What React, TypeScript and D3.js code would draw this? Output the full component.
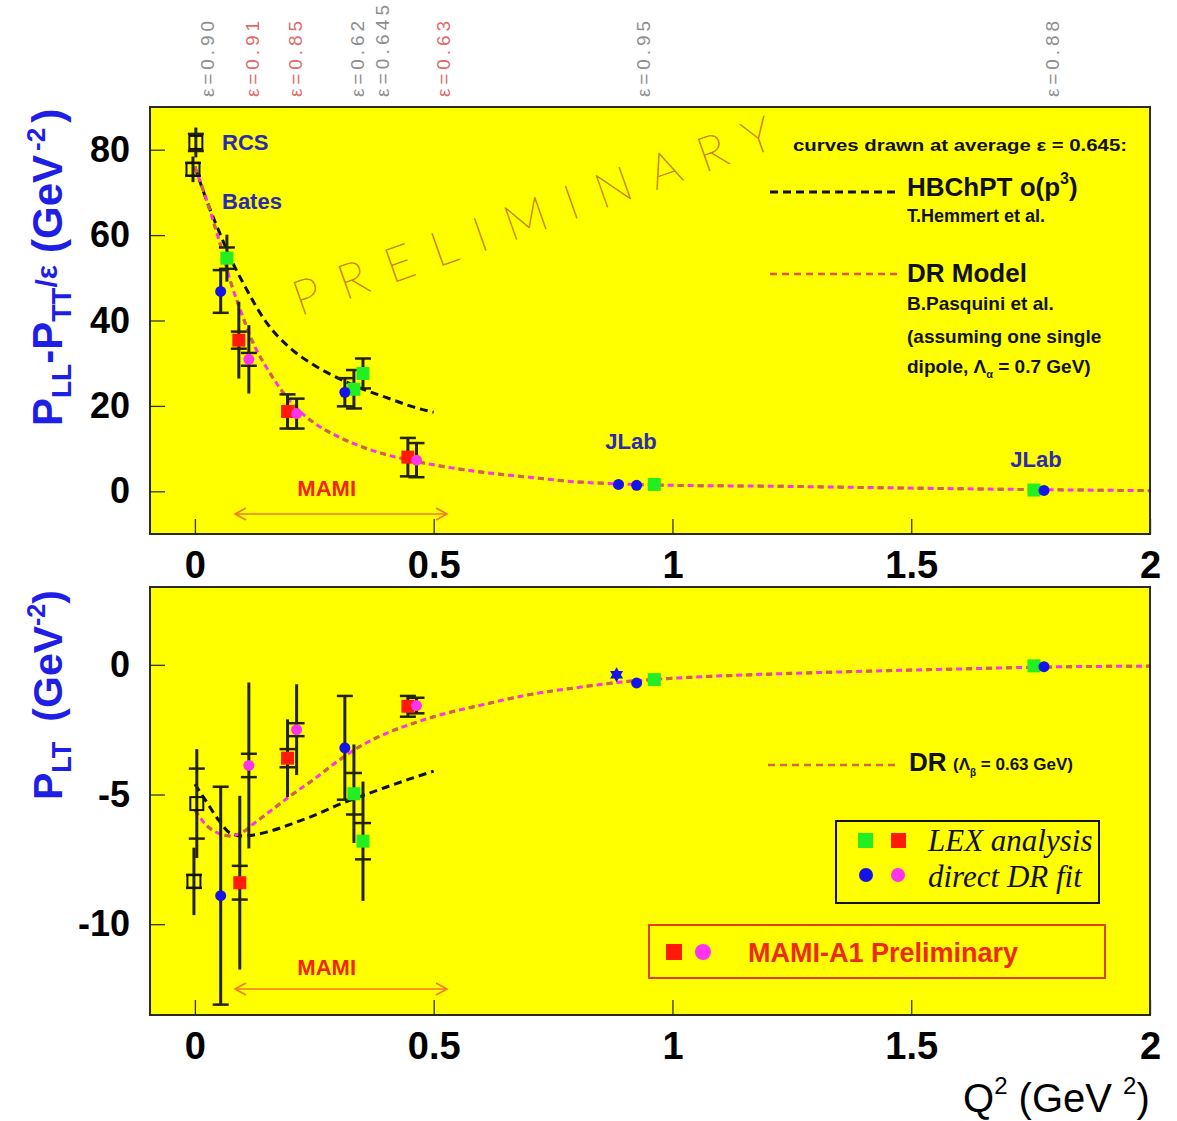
import React, { useEffect, useRef } from 'react';
import * as d3 from 'd3';

// x axis
const q2Ticks = [0, 0.5, 1, 1.5, 2];
const topTicks = [0, 20, 40, 60, 80];
const botTicks = [0, -5, -10];

// points: [Q2, value, stat error, total error]
const topOpen = [[0.002, 81.7, 2, 3.5], [-0.004, 75.4, 1.5, 3]];
const topGreen = [[0.067, 54.6, 2.5, 5.5], [0.333, 23.9, 4.5, 4.5], [0.352, 27.6, 3.5, 3.5], [0.962, 1.6, 0, 0], [1.757, 0.3, 0, 0]];
const topBlue = [[0.054, 46.8, 5, 5], [0.314, 23.2, 3.3, 3.3], [0.887, 1.6, 0, 0], [0.925, 1.4, 0, 0], [1.778, 0.2, 0, 0]];
const topRed = [[0.092, 35.4, 2, 9], [0.194, 18.7, 4, 4], [0.446, 8.0, 4.5, 4.5]];
const topMagenta = [[0.113, 30.9, 1.5, 8], [0.213, 18.2, 3.5, 3.5], [0.464, 7.3, 4, 4]];

const botOpen = [[0.004, -5.35, 1.35, 2.1], [-0.002, -8.35, 0.25, 1.3]];
const botGreen = [[0.333, -4.97, 0.8, 1.9], [0.352, -6.8, 0.7, 2.3], [0.962, -0.57, 0, 0], [1.757, -0.04, 0, 0]];
const botBlue = [[0.054, -8.9, 4.2, 4.2], [0.314, -3.2, 2, 2], [0.925, -0.7, 0, 0], [1.778, -0.07, 0, 0]];
const botStar = [[0.883, -0.38, 0, 0]];
const botRed = [[0.094, -8.4, 0.65, 3.35], [0.194, -3.6, 0.35, 1.5], [0.446, -1.6, 0.4, 0.4]];
const botMagenta = [[0.113, -3.88, 0.45, 3.2], [0.213, -2.5, 0.25, 1.75], [0.464, -1.57, 0.3, 0.3]];

// model curves
const drQ = [0, 0.025, 0.05, 0.075, 0.1, 0.125, 0.15, 0.2, 0.25, 0.3, 0.35, 0.4, 0.45, 0.5, 0.6, 0.7, 0.8, 0.9, 1.0, 1.2, 1.4, 1.6, 1.8, 2.0];
const topDR = [76, 68, 59, 49, 41, 34, 29, 21, 16, 12.8, 10.4, 8.6, 7.3, 6.2, 4.5, 3.3, 2.2, 1.7, 1.4, 1.2, 0.9, 0.6, 0.35, 0.15];
const botDR = [-5.6, -6.2, -6.5, -6.6, -6.45, -6.1, -5.75, -5.05, -4.4, -3.7, -3.1, -2.65, -2.3, -2.0, -1.55, -1.15, -0.88, -0.65, -0.52, -0.36, -0.25, -0.16, -0.08, -0.05];
const chptQ = [0, 0.025, 0.05, 0.075, 0.1, 0.15, 0.2, 0.25, 0.3, 0.35, 0.4, 0.45, 0.5];
const topChPT = [76, 68, 61, 54.5, 49, 39.5, 33.5, 29.5, 26.5, 24, 22, 20, 18.5];
const botChPT = [-4.6, -5.3, -6.0, -6.5, -6.6, -6.45, -6.15, -5.8, -5.4, -5.05, -4.72, -4.4, -4.1];

// epsilon labels above the plot
const epsText = ['ε=0.90', 'ε=0.91', 'ε=0.85', 'ε=0.62', 'ε=0.645', 'ε=0.63', 'ε=0.95', 'ε=0.88'];
const epsQ = [0.025, 0.119, 0.209, 0.339, 0.392, 0.519, 0.938, 1.795];
const epsRed = [false, true, true, false, false, true, false, false];

const FONT = '"Liberation Sans", Arial, Helvetica, sans-serif';
const YELLOW = '#ffff00';
const GREEN = '#22ee22';
const RED = '#ff1a0a';
const BLUEC = '#1414e6';
const MAG = '#ff33ee';
const LBLUE = '#2b2bb0';

const App: React.FC = () => {
  const svgRef = useRef<SVGSVGElement>(null);

  useEffect(() => {
    if (!svgRef.current) return;
    const svg = d3.select(svgRef.current);
    svg.selectAll('*').remove();

    const x = d3.scaleLinear().domain([-0.094, 2]).range([150, 1150]);
    const yTop = d3.scaleLinear().domain([-10, 90]).range([534, 107]);
    const yBot = d3.scaleLinear().domain([-13.5, 3]).range([1015, 587]);

    const defs = svg.append('defs');

    const drawPanel = (y: d3.ScaleLinear<number, number>, ticks: number[], id: string) => {
      const [y0, y1] = y.range();
      svg.append('rect')
        .attr('x', 150).attr('y', y1)
        .attr('width', 1000).attr('height', y0 - y1)
        .attr('fill', YELLOW);
      defs.append('clipPath').attr('id', id)
        .append('rect').attr('x', 150).attr('y', y1).attr('width', 1000).attr('height', y0 - y1);

      const gx = svg.append('g')
        .attr('transform', `translate(0,${y0})`)
        .call(d3.axisBottom(x).tickValues(q2Ticks).tickSize(-15).tickPadding(17).tickFormat(d3.format('~g')));
      gx.select('.domain').remove();
      gx.selectAll('line').attr('stroke', '#333').attr('stroke-width', 1.3);
      gx.selectAll('text')
        .attr('font-family', FONT).attr('font-size', 38).attr('font-weight', 'bold').attr('fill', '#000');

      const gy = svg.append('g')
        .attr('transform', 'translate(150,0)')
        .call(d3.axisLeft(y).tickValues(ticks).tickSize(-15).tickPadding(20).tickFormat(d => String(d)));
      gy.select('.domain').remove();
      gy.selectAll('line').attr('stroke', '#333').attr('stroke-width', 1.3);
      gy.selectAll('text')
        .attr('font-family', FONT).attr('font-size', 36).attr('font-weight', 'bold').attr('fill', '#000');
    };

    drawPanel(yTop, topTicks, 'clipTop');
    drawPanel(yBot, botTicks, 'clipBot');

    // watermark
    svg.append('text')
      .attr('transform', `translate(300,316) rotate(-19.5)`)
      .attr('font-family', 'Lato, "DejaVu Sans", sans-serif')
      .attr('font-weight', 100)
      .attr('font-size', 48)
      .attr('fill', '#c88200')
      .attr('stroke', '#c88200')
      .attr('stroke-width', 0.7)
      .attr('textLength', 505)
      .attr('lengthAdjust', 'spacing')
      .text('PRELIMINARY');

    // curves
    const drawCurves = (y: d3.ScaleLinear<number, number>, dr: number[], chpt: number[], clip: string) => {
      const line = d3.line<number[]>().x(d => x(d[0])).y(d => y(d[1])).curve(d3.curveMonotoneX);
      const g = svg.append('g').attr('clip-path', `url(#${clip})`);
      const drPts = drQ.map((q, i) => [q, dr[i]]);
      const chPts = chptQ.map((q, i) => [q, chpt[i]]);
      g.append('path').attr('d', line(chPts)).attr('fill', 'none')
        .attr('stroke', '#111').attr('stroke-width', 3).attr('stroke-dasharray', '8 5');
      g.append('path').attr('d', line(drPts)).attr('fill', 'none')
        .attr('stroke', MAG).attr('stroke-width', 3).attr('stroke-dasharray', '6 4');
      g.append('path').attr('d', line(drPts)).attr('fill', 'none')
        .attr('stroke', '#c86a3c').attr('stroke-width', 3).attr('stroke-dasharray', '6 14');
    };
    drawCurves(yTop, topDR, topChPT, 'clipTop');
    drawCurves(yBot, botDR, botChPT, 'clipBot');

    // error bars + markers
    const drawErrors = (y: d3.ScaleLinear<number, number>, pts: number[][]) => {
      const g = svg.append('g');
      pts.forEach(([q, v, st, tot]) => {
        if (tot > 0) {
          g.append('line').attr('x1', x(q)).attr('x2', x(q))
            .attr('y1', y(v - tot)).attr('y2', y(v + tot))
            .attr('stroke', '#23230a').attr('stroke-width', 3);
        }
        if (st > 0) {
          [v - st, v + st].forEach(e => {
            g.append('line').attr('x1', x(q) - 8).attr('x2', x(q) + 8)
              .attr('y1', y(e)).attr('y2', y(e))
              .attr('stroke', '#23230a').attr('stroke-width', 2.5);
          });
        }
      });
    };
    const drawSquares = (y: d3.ScaleLinear<number, number>, pts: number[][], color: string, open = false) => {
      svg.append('g').selectAll('rect').data(pts).enter().append('rect')
        .attr('x', d => x(d[0]) - 6.5).attr('y', d => y(d[1]) - 6.5)
        .attr('width', 13).attr('height', 13)
        .attr('fill', open ? 'none' : color)
        .attr('stroke', open ? '#111' : 'none')
        .attr('stroke-width', 2);
    };
    const drawCircles = (y: d3.ScaleLinear<number, number>, pts: number[][], color: string) => {
      svg.append('g').selectAll('circle').data(pts).enter().append('circle')
        .attr('cx', d => x(d[0])).attr('cy', d => y(d[1])).attr('r', 5.5)
        .attr('fill', color);
    };
    const starPath = (cx: number, cy: number, r: number) => {
      const a = r * 0.866, b = r / 2;
      return `M${cx},${cy - r}L${cx + a},${cy + b}L${cx - a},${cy + b}Z` +
        `M${cx},${cy + r}L${cx - a},${cy - b}L${cx + a},${cy - b}Z`;
    };

    [topOpen, topGreen, topBlue, topRed, topMagenta].forEach(p => drawErrors(yTop, p));
    [botOpen, botGreen, botBlue, botRed, botMagenta].forEach(p => drawErrors(yBot, p));

    drawSquares(yTop, topOpen, '#000', true);
    drawSquares(yTop, topGreen, GREEN);
    drawCircles(yTop, topBlue, BLUEC);
    drawSquares(yTop, topRed, RED);
    drawCircles(yTop, topMagenta, MAG);

    drawSquares(yBot, botOpen, '#000', true);
    drawSquares(yBot, botGreen, GREEN);
    drawCircles(yBot, botBlue, BLUEC);
    drawSquares(yBot, botRed, RED);
    drawCircles(yBot, botMagenta, MAG);
    svg.append('g').selectAll('path').data(botStar).enter().append('path')
      .attr('d', d => starPath(x(d[0]), yBot(d[1]), 7.5))
      .attr('fill', BLUEC).attr('fill-rule', 'nonzero');

    // MAMI arrows
    const drawArrow = (y: d3.ScaleLinear<number, number>, v: number, textV: number) => {
      const xa = x(0.084), xb = x(0.528), yy = y(v);
      const g = svg.append('g').attr('stroke', '#f07a28').attr('stroke-width', 1.6).attr('fill', 'none');
      g.append('line').attr('x1', xa).attr('x2', xb).attr('y1', yy).attr('y2', yy);
      g.append('path').attr('d', `M${xa + 11},${yy - 6}L${xa},${yy}L${xa + 11},${yy + 6}`);
      g.append('path').attr('d', `M${xb - 11},${yy - 6}L${xb},${yy}L${xb - 11},${yy + 6}`);
      svg.append('text').attr('x', x(0.276)).attr('y', y(textV))
        .attr('text-anchor', 'middle').attr('font-family', FONT).attr('font-weight', 'bold')
        .attr('font-size', 22).attr('fill', '#f0260e').text('MAMI');
    };
    drawArrow(yTop, -5.3, -1.2);
    drawArrow(yBot, -12.5, -11.95);

    // experiment labels
    const lbl = (tx: number, ty: number, s: string, anchor = 'start') =>
      svg.append('text').attr('x', tx).attr('y', ty).attr('text-anchor', anchor)
        .attr('font-family', FONT).attr('font-weight', 'bold').attr('font-size', 22)
        .attr('fill', LBLUE).text(s);
    lbl(222, 150, 'RCS');
    lbl(222, 209, 'Bates');
    lbl(631, 449, 'JLab', 'middle');
    lbl(1036, 467, 'JLab', 'middle');

    // epsilon labels
    epsText.forEach((t, i) => {
      svg.append('text')
        .attr('transform', `translate(${x(epsQ[i]) + 7},97) rotate(-90)`)
        .attr('font-family', FONT).attr('font-size', 19)
        .attr('fill', epsRed[i] ? '#e06a6a' : '#8e8e8e')
        .attr('textLength', t.length > 6 ? 92 : 76)
        .attr('lengthAdjust', 'spacing')
        .text(t);
    });

    // top legend
    const txt = (tx: number, ty: number, size: number, color = '#111') =>
      svg.append('text').attr('x', tx).attr('y', ty).attr('font-family', FONT)
        .attr('font-weight', 'bold').attr('font-size', size).attr('fill', color);
    txt(793, 151, 16).attr('textLength', 334).attr('lengthAdjust', 'spacingAndGlyphs')
      .text('curves drawn at average ε = 0.645:');
    svg.append('line').attr('x1', 770).attr('x2', 898).attr('y1', 192).attr('y2', 192)
      .attr('stroke', '#111').attr('stroke-width', 3).attr('stroke-dasharray', '8 5');
    const hb = txt(907, 196, 26);
    hb.append('tspan').text('HBChPT o(p');
    hb.append('tspan').attr('font-size', 16).attr('dy', -12).text('3');
    hb.append('tspan').attr('dy', 12).text(')');
    txt(907, 222, 18).text('T.Hemmert et al.');
    svg.append('line').attr('x1', 770).attr('x2', 898).attr('y1', 274).attr('y2', 274)
      .attr('stroke', '#e0583a').attr('stroke-width', 2.5).attr('stroke-dasharray', '7 5');
    txt(907, 282, 26).text('DR Model');
    txt(907, 310, 19).text('B.Pasquini et al.');
    txt(907, 343, 19).text('(assuming one single');
    const dp = txt(907, 373, 19);
    dp.append('tspan').text('dipole, Λ');
    dp.append('tspan').attr('font-size', 11).attr('dy', 5).text('α');
    dp.append('tspan').attr('dy', -5).text(' = 0.7 GeV)');

    // bottom legend
    svg.append('line').attr('x1', 768).attr('x2', 898).attr('y1', 765).attr('y2', 765)
      .attr('stroke', '#d06a44').attr('stroke-width', 2.5).attr('stroke-dasharray', '7 5');
    txt(909, 771, 26).text('DR');
    const dr2 = txt(953, 770, 17);
    dr2.append('tspan').text('(Λ');
    dr2.append('tspan').attr('font-size', 10).attr('dy', 6).text('β');
    dr2.append('tspan').attr('dy', -6).text(' = 0.63 GeV)');

    svg.append('rect').attr('x', 836).attr('y', 821).attr('width', 263).attr('height', 82)
      .attr('fill', 'none').attr('stroke', '#111').attr('stroke-width', 2);
    svg.append('rect').attr('x', 858).attr('y', 833).attr('width', 15).attr('height', 15).attr('fill', GREEN);
    svg.append('rect').attr('x', 891).attr('y', 833).attr('width', 15).attr('height', 15).attr('fill', RED);
    svg.append('circle').attr('cx', 866).attr('cy', 875).attr('r', 7).attr('fill', BLUEC);
    svg.append('circle').attr('cx', 898).attr('cy', 875).attr('r', 7).attr('fill', MAG);
    svg.append('text').attr('x', 928).attr('y', 851).attr('font-family', '"Liberation Serif", "Times New Roman", serif')
      .attr('font-style', 'italic').attr('font-size', 31).attr('fill', '#111').text('LEX analysis');
    svg.append('text').attr('x', 928).attr('y', 887).attr('font-family', '"Liberation Serif", "Times New Roman", serif')
      .attr('font-style', 'italic').attr('font-size', 31).attr('fill', '#111').text('direct DR fit');

    svg.append('rect').attr('x', 649).attr('y', 925).attr('width', 456).attr('height', 53)
      .attr('fill', 'none').attr('stroke', '#e0401c').attr('stroke-width', 2);
    svg.append('rect').attr('x', 666).attr('y', 944).attr('width', 16).attr('height', 16).attr('fill', RED);
    svg.append('circle').attr('cx', 703).attr('cy', 952).attr('r', 8).attr('fill', MAG);
    txt(748, 962, 27, '#ee2a14').text('MAMI-A1 Preliminary');

    // frames on top
    [yTop, yBot].forEach(y => {
      const [y0, y1] = y.range();
      svg.append('rect').attr('x', 150).attr('y', y1).attr('width', 1000).attr('height', y0 - y1)
        .attr('fill', 'none').attr('stroke', '#2b2b1a').attr('stroke-width', 2);
    });

    // axis titles
    const t1 = svg.append('text').attr('transform', 'translate(62,426) rotate(-90)')
      .attr('font-family', FONT).attr('font-weight', 'bold').attr('font-size', 42).attr('fill', '#1e1ee6');
    t1.append('tspan').text('P');
    t1.append('tspan').attr('font-size', 28).attr('dy', 9).text('LL');
    t1.append('tspan').attr('dy', -9).text('-P');
    t1.append('tspan').attr('font-size', 28).attr('dy', 9).text('TT');
    t1.append('tspan').attr('font-size', 30).attr('dy', -14).text('/ε');
    t1.append('tspan').attr('dx', 12).attr('dy', 5).text('(GeV');
    t1.append('tspan').attr('font-size', 26).attr('dx', 4).attr('dy', -17).text('-2');
    t1.append('tspan').attr('dx', 5).attr('dy', 17).text(')');

    const t2 = svg.append('text').attr('transform', 'translate(62,800) rotate(-90)')
      .attr('font-family', FONT).attr('font-weight', 'bold').attr('font-size', 41).attr('fill', '#1e1ee6');
    t2.append('tspan').text('P');
    t2.append('tspan').attr('font-size', 27).attr('dy', 9).text('LT');
    t2.append('tspan').attr('dy', -9).attr('dx', 20).text('(GeV');
    t2.append('tspan').attr('font-size', 25).attr('dy', -17).text('-2');
    t2.append('tspan').attr('dy', 17).text(')');

    const xt = svg.append('text').attr('x', 963).attr('y', 1112)
      .attr('font-family', FONT).attr('font-size', 40).attr('fill', '#000');
    xt.append('tspan').text('Q');
    xt.append('tspan').attr('font-size', 24).attr('dy', -18).text('2');
    xt.append('tspan').attr('dy', 18).text(' (GeV ');
    xt.append('tspan').attr('font-size', 24).attr('dy', -18).text('2');
    xt.append('tspan').attr('dy', 18).text(')');
  }, []);

  return (
    <svg
      ref={svgRef}
      width={1177}
      height={1121}
      style={{ position: 'absolute', left: 0, top: 0, background: '#fff' }}
    />
  );
};

export default App;
